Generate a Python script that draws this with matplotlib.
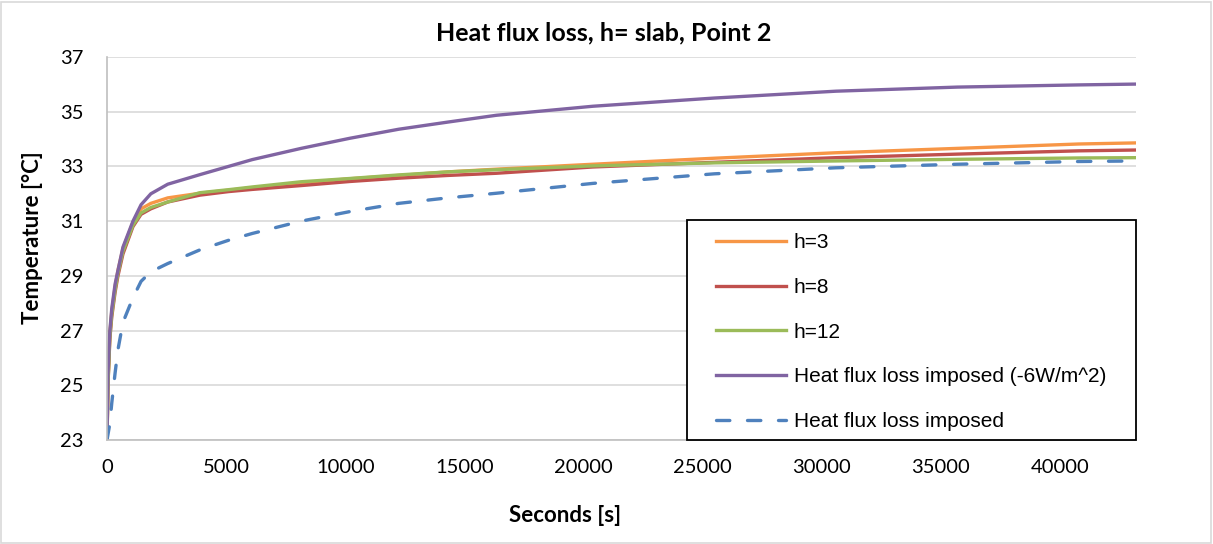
import matplotlib
matplotlib.use("Agg")
import matplotlib.pyplot as plt
from matplotlib.patches import Rectangle

# time [s]
t = [0, 40, 120, 200, 340, 460, 670, 1090, 1430, 1840, 2550, 3900, 5100, 6100,
     8150, 10200, 12250, 14300, 16350, 20400, 25500, 30600, 35700, 40800, 43200]

h3 = [23, 25.1, 26.9, 27.7, 28.6, 29.2, 30.0, 30.95, 31.45, 31.65, 31.85, 32.02, 32.13, 32.22,
      32.4, 32.55, 32.67, 32.8, 32.9, 33.08, 33.3, 33.5, 33.66, 33.82, 33.86]
h8 = [23, 25.0, 26.7, 27.5, 28.4, 29.0, 29.8, 30.8, 31.25, 31.45, 31.7, 31.95, 32.08, 32.16,
      32.3, 32.45, 32.57, 32.67, 32.75, 32.98, 33.15, 33.32, 33.45, 33.57, 33.6]
h12 = [23, 25.0, 26.8, 27.6, 28.5, 29.1, 29.9, 30.85, 31.3, 31.5, 31.7, 32.04, 32.15, 32.25,
       32.44, 32.56, 32.69, 32.8, 32.88, 33.02, 33.13, 33.2, 33.26, 33.31, 33.32]
imposed_6 = [23, 25.4, 27.0, 27.8, 28.7, 29.2, 30.05, 31.0, 31.6, 32.0, 32.35, 32.7, 33.0, 33.25,
             33.66, 34.03, 34.36, 34.62, 34.87, 35.2, 35.5, 35.75, 35.9, 35.98, 36.01]
imposed = [23, 23.2, 23.6, 24.35, 25.45, 26.3, 27.3, 28.2, 28.8, 29.15, 29.45, 29.95, 30.3, 30.55,
           31.0, 31.35, 31.65, 31.85, 32.02, 32.38, 32.73, 32.95, 33.08, 33.18, 33.2]

x_ticks = list(range(0, 40001, 5000))
y_ticks = list(range(23, 38, 2))

main_font = "Lato"
legend_font = "Liberation Sans"

W, H = 1213, 544
L, R, T, B = 107, 1136, 57, 440

fig = plt.figure(figsize=(W / 100, H / 100), dpi=100)
ax = fig.add_axes([L / W, 1 - B / H, (R - L) / W, (B - T) / H])

# chart area border
fig.patches.append(Rectangle((0.001, 0.002), 0.997, 0.995, transform=fig.transFigure,
                             fill=False, edgecolor="#d9d9d9", linewidth=1.2))

lw = 2.4
ax.plot(t, h3, color="#F79646", lw=lw, label="h=3")
ax.plot(t, h8, color="#C0504D", lw=lw, label="h=8")
ax.plot(t, h12, color="#9BBB59", lw=lw, label="h=12")
ax.plot(t, imposed_6, color="#8064A2", lw=lw, label="Heat flux loss imposed (-6W/m^2)")
ax.plot(t, imposed, color="#4F81BD", lw=lw, ls=(0, (4, 5.3)), dash_capstyle="round",
        label="Heat flux loss imposed")

ax.set_xlim(0, 43200)
ax.set_ylim(23, 37)
ax.set_xticks(x_ticks)
ax.set_yticks(y_ticks)
ax.tick_params(length=0, labelsize=14.5)
ax.tick_params(axis="y", pad=17)
ax.tick_params(axis="x", pad=14)
for lab in ax.get_xticklabels() + ax.get_yticklabels():
    lab.set_fontfamily(main_font)
ax.grid(axis="y", color="#d9d9d9", lw=1.2)
ax.set_axisbelow(True)
for s in ["top", "right"]:
    ax.spines[s].set_visible(False)
for s in ["left", "bottom"]:
    ax.spines[s].set_color("#bfbfbf")
    ax.spines[s].set_linewidth(1.2)

fig.text(0.498, 1 - 33 / H, "Heat flux loss, h= slab, Point 2", ha="center", va="center",
         fontsize=18, fontweight="bold", family=main_font)
fig.text(565 / W, 1 - 516 / H, "Seconds [s]", ha="center", va="center",
         fontsize=16, fontweight="bold", family=main_font)
fig.text(33 / W, 1 - 238 / H, "Temperature [°C]", ha="center", va="center",
         rotation=90, fontsize=16, fontweight="bold", family=main_font)

# legend box
def ax_xy(px, py):
    return (px - L) / (R - L), (B - py) / (B - T)

bx0, by0 = ax_xy(687, 440)
bx1, by1 = ax_xy(1136, 220)
ax.add_patch(Rectangle((bx0, by0), bx1 - bx0, by1 - by0, transform=ax.transAxes,
                       facecolor="white", edgecolor="black", lw=1.3, zorder=5, clip_on=False))
lx, ly = ax_xy(716, 233)
leg = ax.legend(loc="upper left", bbox_to_anchor=(lx, ly), borderaxespad=0, borderpad=0,
                frameon=False, prop={"family": legend_font, "size": 15}, handlelength=3.37,
                labelspacing=1.24, handletextpad=0.35)
leg.set_zorder(6)

plt.savefig("out.png", dpi=100)
